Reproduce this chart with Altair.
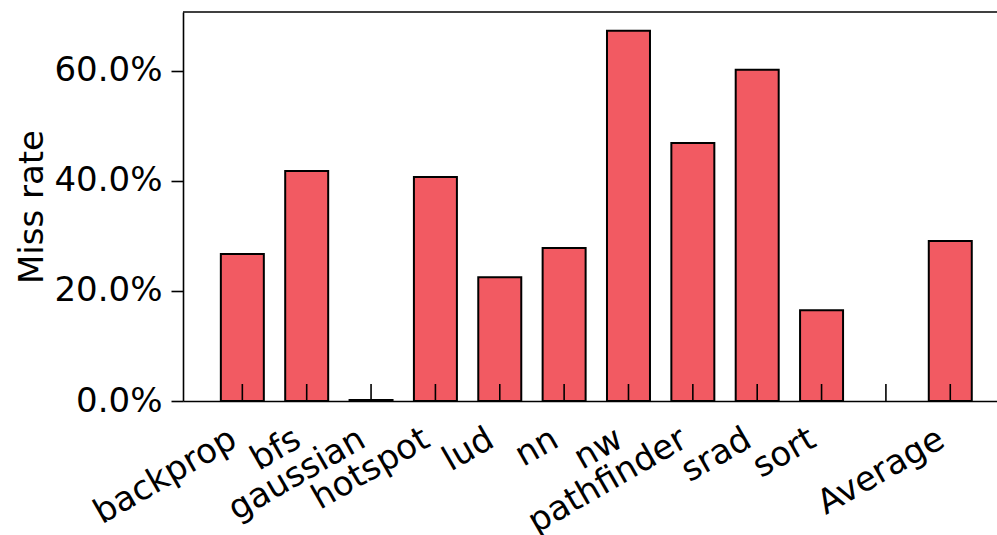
import altair as alt
import pandas as pd

categories = ["backprop", "bfs", "gaussian", "hotspot", "lud", "nn", "nw",
              "pathfinder", "srad", "sort", " ", "Average"]
miss_rate = [0.267, 0.418, 0.002, 0.407, 0.225, 0.278, 0.673,
             0.469, 0.602, 0.165, None, 0.291]
y_ticks = [0.0, 0.2, 0.4, 0.6]

W = 814
H = 389
FONT = "DejaVu Sans"
FS = 34

df = pd.DataFrame({"cat": categories, "rate": miss_rate})

x_enc = alt.X(
    "cat:N",
    sort=categories,
    scale=alt.Scale(domain=categories, paddingInner=0.332, paddingOuter=0.49, align=0.6),
    axis=alt.Axis(
        title=None,
        ticks=False,
        labelAngle=330,
        labelAlign="right",
        labelBaseline="bottom",
        labelPadding=50,
        labelFont=FONT,
        labelFontSize=FS,
        labelColor="black",
        labelOverlap=False,
        labelBound=False,
        domainColor="black",
        domainWidth=1.6,
        grid=False,
    ),
)

bars = alt.Chart(df).mark_bar(
    color="#f25a62", stroke="black", strokeWidth=2
).encode(
    x=x_enc,
    y=alt.Y(
        "rate:Q",
        scale=alt.Scale(domain=[0, 0.707], nice=False, zero=True),
        axis=alt.Axis(
            title="Miss rate",
            values=y_ticks,
            format=".1%",
            labelFont=FONT,
            labelFontSize=FS,
            labelColor="black",
            labelPadding=9,
            tickSize=12,
            tickColor="black",
            tickWidth=1.6,
            domainColor="black",
            domainWidth=1.6,
            titleFont=FONT,
            titleFontSize=FS,
            titleFontWeight="normal",
            titleColor="black",
            titleX=-141,
            titleY=H / 2,
            titleBaseline="alphabetic",
            titleAlign="center",
            titleAngle=270,
            grid=False,
        ),
    ),
)

inner_ticks = alt.Chart(df).mark_rule(color="black", strokeWidth=1.6).encode(
    x=x_enc,
    y=alt.value(H),
    y2=alt.value(H - 17),
)

top_line = alt.Chart(pd.DataFrame({"a": [0]})).mark_rule(
    color="black", strokeWidth=1.6
).encode(
    x=alt.value(0),
    x2=alt.value(W),
    y=alt.value(0),
)

chart = alt.layer(bars, inner_ticks, top_line).properties(
    width=W,
    height=H,
    padding={"left": 183, "top": 12, "right": 0, "bottom": 535 - 12 - H},
    autosize=alt.AutoSizeParams(type="none"),
    background="white",
).configure_view(stroke=None)

chart.save("out.html", embed_options={"renderer": "svg", "actions": False})
